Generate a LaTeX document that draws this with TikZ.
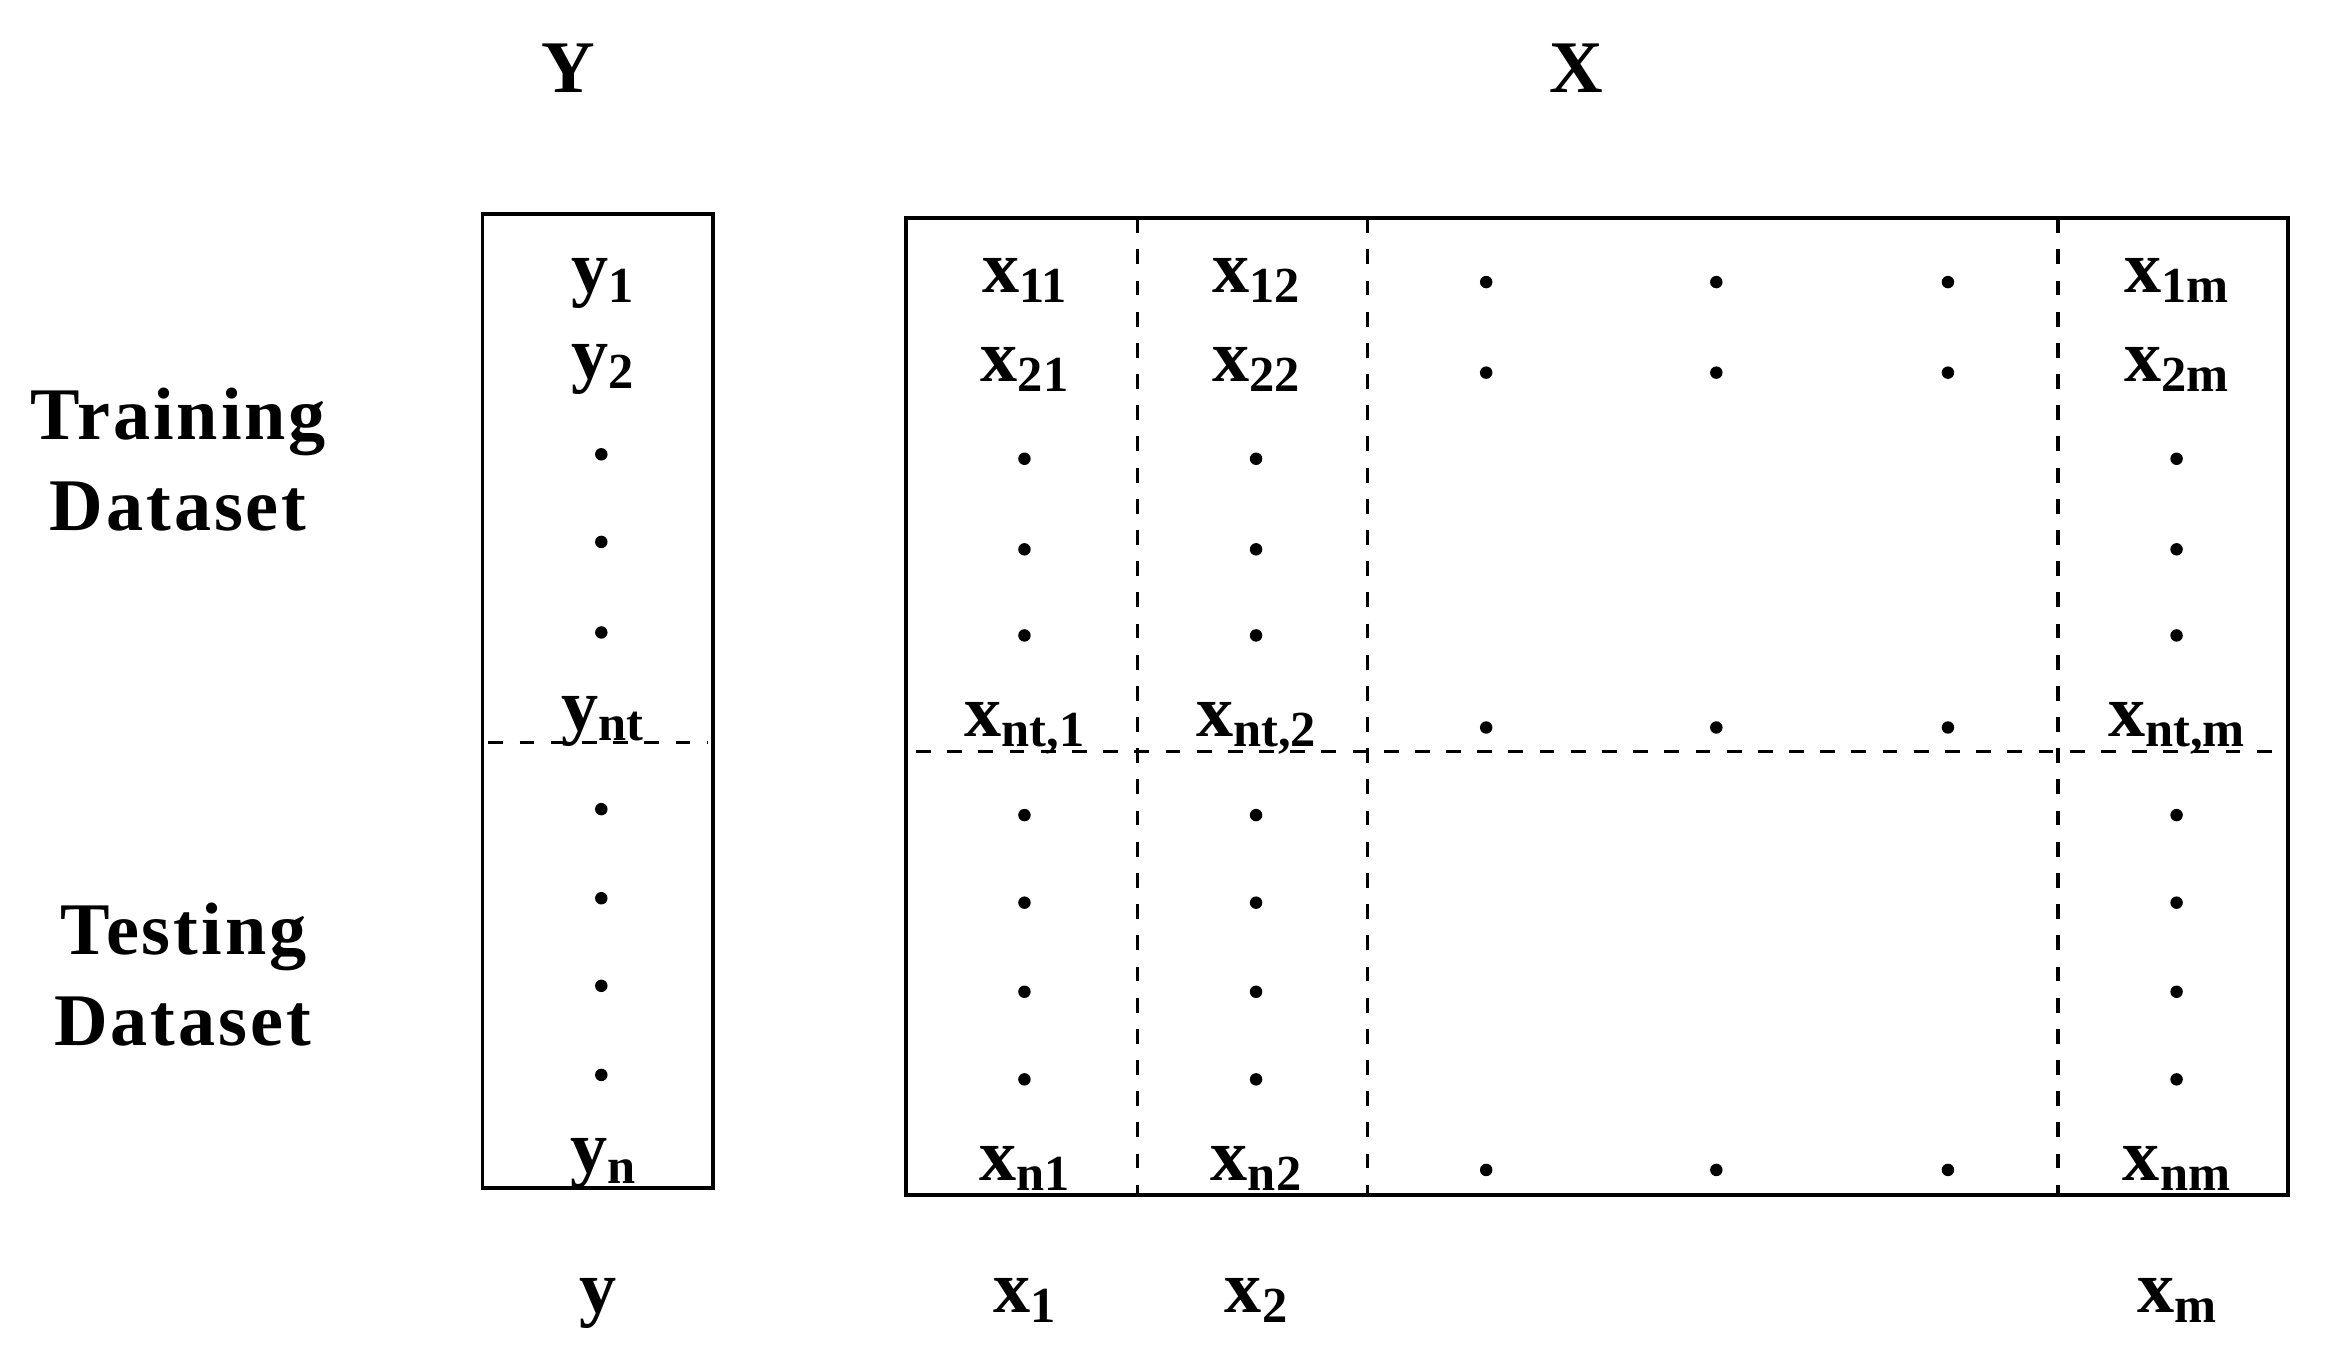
\documentclass[tikz,border=0pt]{standalone}
\usepackage{fontspec}
\setmainfont{Liberation Serif}
\newfontfamily\spacedfont[LetterSpace=4]{Liberation Serif}
\newcommand\lowsub[1]{\raisebox{-3.5pt}{\fontsize{17}{17}\selectfont #1}}
\begin{document}
\begin{tikzpicture}[x=0.5pt,y=-0.5pt,
  lbl/.style={inner sep=0pt, anchor=base, font=\fontsize{25}{30}\selectfont\bfseries},
  side/.style={inner sep=0pt, anchor=base, font=\fontsize{25}{30}\spacedfont\bfseries},
  dt/.style={circle, fill=black, inner sep=0pt, minimum size=4.2pt},
  frame/.style={draw, line width=1.3pt},
  sepline/.style={line width=1.15pt, dash pattern=on 5pt off 5.5pt}]
\useasboundingbox (0,0) rectangle (1568,913);

% headers
\node[lbl] (hY) at (383,62) {Y};
\node[lbl] (hX) at (1062,62) {X};

% side labels
\node[side] (tr1) at (120,296) {Training};
\node[side] (tr2) at (120,357) {Dataset};
\node[side] (te1) at (123.5,643) {Testing};
\node[side] (te2) at (123,704) {Dataset};

% frames
\coordinate (yTL) at (325,144);
\coordinate (yBR) at (480,800);
\coordinate (xTL) at (610,147);
\coordinate (xBR) at (1541,805);
\draw[frame] (yTL) rectangle (yBR);
\draw[frame] (xTL) rectangle (xBR);

% separators
\coordinate (ysL) at (329,500);
\coordinate (ysR) at (477,500);
\draw[sepline] (ysL) -- (ysR);
\coordinate (xsL) at (617,506);
\coordinate (xsR) at (1537,506);
\draw[sepline] (xsL) -- (xsR);
\foreach \vx [count=\k] in {766,921,1386} {
  \coordinate (vt\k) at (\vx,147);
  \coordinate (vb\k) at (\vx,805);
  \draw[sepline] (vt\k) -- (vb\k);
}

% y column
\node[lbl] (y1) at (406,197) {y\lowsub{1}};
\node[lbl] (y2) at (406,255) {y\lowsub{2}};
\node[lbl] (ynt) at (406,492) {y\lowsub{nt}};
\node[lbl] (yn) at (406,790) {y\lowsub{n}};
\foreach \yy [count=\i] in {306,365,426,545,605,664,724}
  \node[dt] (yd\i) at (405,\yy) {};

% x columns
\node[lbl] (x11) at (690,197) {x\lowsub{11}};
\node[lbl] (x12) at (846,197) {x\lowsub{12}};
\node[lbl] (x1m) at (1466,197) {x\lowsub{1m}};
\node[lbl] (x21) at (690,257) {x\lowsub{21}};
\node[lbl] (x22) at (846,257) {x\lowsub{22}};
\node[lbl] (x2m) at (1466,257) {x\lowsub{2m}};
\node[lbl] (xnt1) at (690,496) {x\lowsub{nt,1}};
\node[lbl] (xnt2) at (846,496) {x\lowsub{nt,2}};
\node[lbl] (xntm) at (1466,496) {x\lowsub{nt,m}};
\node[lbl] (xn1) at (690,795) {x\lowsub{n1}};
\node[lbl] (xn2) at (846,795) {x\lowsub{n2}};
\node[lbl] (xnm) at (1466,795) {x\lowsub{nm}};

\foreach \cx [count=\j] in {690,846,1466}
  \foreach \yy [count=\i] in {309,370,428,549,608,668,727}
    \node[dt] (cd\j-\i) at (\cx,\yy) {};
\foreach \cx [count=\j] in {1001,1156,1312}
  \foreach \yy [count=\i] in {190,251,490,788}
    \node[dt] (rd\j-\i) at (\cx,\yy) {};

% bottom labels
\node[lbl] (by) at (403,884) {y};
\node[lbl] (bx1) at (690,884) {x\lowsub{1}};
\node[lbl] (bx2) at (846,884) {x\lowsub{2}};
\node[lbl] (bxm) at (1466,884) {x\lowsub{m}};
\end{tikzpicture}
\end{document}
